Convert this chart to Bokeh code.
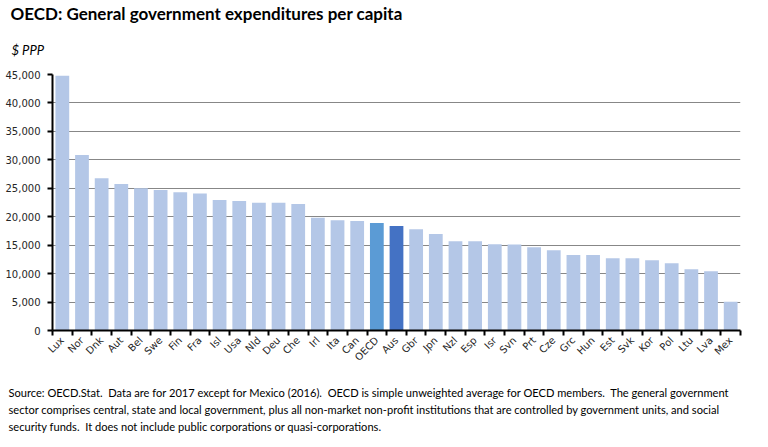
import numpy as np
from bokeh.plotting import figure
from bokeh.models import (Range1d, FixedTicker, NumeralTickFormatter, Title,
                          ColumnDataSource)
from bokeh.embed import file_html
from bokeh.resources import INLINE

countries = ["Lux", "Nor", "Dnk", "Aut", "Bel", "Swe", "Fin", "Fra", "Isl", "Usa",
             "Nld", "Deu", "Che", "Irl", "Ita", "Can", "OECD", "Aus", "Gbr", "Jpn",
             "Nzl", "Esp", "Isr", "Svn", "Prt", "Cze", "Grc", "Hun", "Est", "Svk",
             "Kor", "Pol", "Ltu", "Lva", "Mex"]
spending = [44800, 30850, 26750, 25750, 25000, 24700, 24300, 24100, 22950, 22750,
            22450, 22450, 22250, 19800, 19400, 19250, 18900, 18350, 17800, 16950,
            15700, 15700, 15150, 15100, 14650, 14100, 13250, 13250, 12700, 12700,
            12350, 11800, 10750, 10400, 5050]
highlight = {"OECD": "#5B9BD5", "Aus": "#4472C4"}
base_color = "#B4C7E7"
y_ticks = [0, 5000, 10000, 15000, 20000, 25000, 30000, 35000, 40000, 45000]

title_text = "OECD: General government expenditures per capita"
unit_text = "$ PPP"
S2 = "\u00a0 "
note_lines = [
    "Source: OECD.Stat." + S2 + "Data are for 2017 except for Mexico (2016)." + S2 +
    "OECD is simple unweighted average for OECD members." + S2 + "The general government",
    "sector comprises central, state and local government, plus all non-market non-profit institutions that are controlled by government units, and social",
    "security funds." + S2 + "It does not include public corporations or quasi-corporations.",
]

n = len(countries)
xpos = np.arange(n) + 0.5
colors = [highlight.get(c, base_color) for c in countries]
src = ColumnDataSource(dict(x=xpos, top=spending, color=colors, name=countries))

p = figure(width=752, height=447, output_backend="svg", toolbar_location=None,
           x_range=Range1d(0, n), y_range=Range1d(0, 45000),
           min_border_left=52, min_border_right=12, min_border_top=74,
           min_border_bottom=117)
p.outline_line_color = None
p.background_fill_color = "white"
p.border_fill_color = "white"

p.vbar(x="x", top="top", width=0.7, bottom=0, fill_color="color",
       line_color=None, source=src)

xa = p.xaxis[0]
xa.ticker = FixedTicker(ticks=list(xpos), minor_ticks=list(range(n + 1)))
xa.major_label_overrides = {float(x): c for x, c in zip(xpos, countries)}
xa.major_label_orientation = np.pi / 4
xa.major_tick_out = 0
xa.major_tick_in = 0
xa.minor_tick_out = 5
xa.minor_tick_in = 0
xa.minor_tick_line_color = "black"
xa.minor_tick_line_width = 2
xa.axis_line_color = "black"
xa.axis_line_width = 2
xa.major_label_text_font = "DejaVu Sans"
xa.major_label_text_font_size = "10px"
xa.major_label_text_color = "#262626"
xa.major_label_standoff = 3

ya = p.yaxis[0]
ya.ticker = FixedTicker(ticks=y_ticks)
ya.formatter = NumeralTickFormatter(format="0,0")
ya.major_tick_out = 5
ya.major_tick_in = 0
ya.major_tick_line_color = "black"
ya.major_tick_line_width = 2
ya.minor_tick_line_color = None
ya.axis_line_color = "black"
ya.axis_line_width = 2
ya.major_label_text_font = "DejaVu Sans"
ya.major_label_text_font_size = "10px"
ya.major_label_text_color = "#262626"
ya.major_label_standoff = 7

p.xgrid.grid_line_color = None
p.ygrid.ticker = FixedTicker(ticks=y_ticks[1:])
p.ygrid.grid_line_color = "#878787"
p.ygrid.grid_line_width = 1

p.add_layout(Title(text=unit_text, text_font="Lato", text_font_style="italic",
                   text_font_size="13px", text_color="#000000", align="left",
                   offset=-41, standoff=33), "above")
p.add_layout(Title(text=title_text, text_font="Lato", text_font_style="bold",
                   text_font_size="17px", text_color="#000000", align="left",
                   offset=-42, standoff=0), "above")
p.add_layout(Title(text="\n".join(note_lines), text_font="Lato",
                   text_font_style="normal", text_font_size="11.1px",
                   text_line_height=1.33,
                   text_color="#000000", align="left", offset=-44,
                   standoff=28), "below")

open("out.html", "w").write(file_html(p, INLINE))
